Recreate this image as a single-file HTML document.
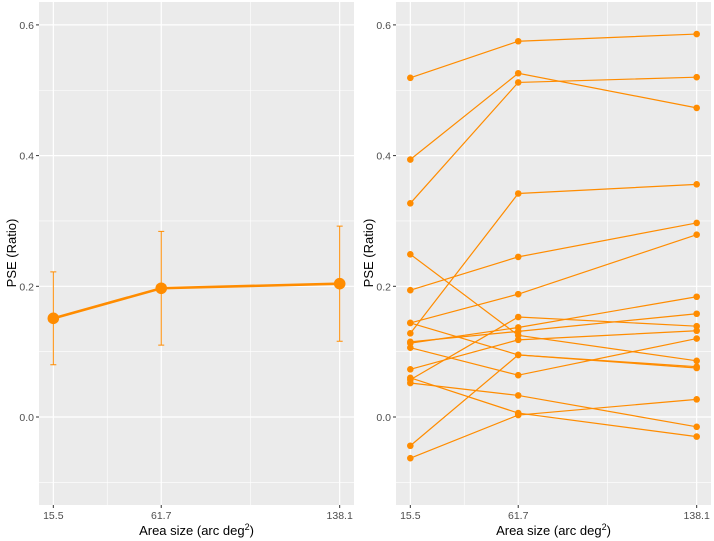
<!DOCTYPE html>
<html><head><meta charset="utf-8"><style>
html,body{margin:0;padding:0;background:#fff;}
svg{display:block;font-family:"Liberation Sans",sans-serif;}
</style></head><body>
<svg id="chart" width="714" height="541"></svg>
<script>
const areaSizes = [15.5, 61.7, 138.1];
const tickLabels = ["15.5", "61.7", "138.1"];
const yTicks = [0.0, 0.2, 0.4, 0.6];
const yTickLabels = ["0.0", "0.2", "0.4", "0.6"];
const yMinor = [-0.1, 0.1, 0.3, 0.5];
const meanPSE = [0.151, 0.197, 0.204];
const errLow = [0.080, 0.110, 0.116];
const errHigh = [0.222, 0.284, 0.292];
const s1 = [0.519, 0.575, 0.586];
const s2 = [0.394, 0.526, 0.473];
const s3 = [0.327, 0.512, 0.520];
const s4 = [0.128, 0.342, 0.356];
const s5 = [0.194, 0.245, 0.297];
const s6 = [0.144, 0.188, 0.279];
const s7 = [0.249, 0.125, 0.086];
const s8 = [0.106, 0.064, 0.120];
const s9 = [0.113, 0.137, 0.184];
const s10 = [0.115, 0.131, 0.158];
const s11 = [0.144, 0.095, 0.077];
const s12 = [0.073, 0.118, 0.132];
const s13 = [0.057, 0.153, 0.139];
const s14 = [0.052, 0.033, -0.015];
const s15 = [0.060, 0.006, -0.030];
const s16 = [-0.044, 0.095, 0.075];
const s17 = [-0.063, 0.003, 0.027];
const subjects = [s1,s2,s3,s4,s5,s6,s7,s8,s9,s10,s11,s12,s13,s14,s15,s16,s17];

const NS = "http://www.w3.org/2000/svg";
const svg = document.getElementById("chart");
const ORANGE = "#ff8c00";
const xMin = 15.5 - 0.05*122.6, xMax = 138.1 + 0.05*122.6;
const plotTop = 2, plotBot = 505;
function yScale(v){ return 417 - v * 653.5; }
function mk(tag, attrs, parent){
  const e = document.createElementNS(NS, tag);
  for (const k in attrs) e.setAttribute(k, attrs[k]);
  (parent || svg).appendChild(e);
  return e;
}
function panel(offset, name){
  const g = mk("g", {});
  
  
  const L = 39 + offset, R = 354 + offset;
  const xs = v => L + (v - xMin) / (xMax - xMin) * (R - L);
  const bg = mk("rect", {x:L, y:plotTop, width:R-L, height:plotBot-plotTop, fill:"#ebebeb"}, g);
  
  
  yMinor.forEach(v => { mk("line", {x1:L, x2:R, y1:yScale(v), y2:yScale(v), stroke:"#fff", "stroke-width":0.6}, g); });
  for (let i = 0; i < areaSizes.length-1; i++){
    const m = xs((areaSizes[i]+areaSizes[i+1])/2);
    mk("line", {x1:m, x2:m, y1:plotTop, y2:plotBot, stroke:"#fff", "stroke-width":0.6}, g);
  }
  yTicks.forEach((v,i) => {
    const y = yScale(v);
    mk("line", {x1:L, x2:R, y1:y, y2:y, stroke:"#fff", "stroke-width":1.2}, g);
    mk("line", {x1:L-3, x2:L, y1:y, y2:y, stroke:"#333", "stroke-width":1}, g);
    const t = mk("text", {x:L-5, y:y+4, "text-anchor":"end", "font-size":"10.5", fill:"#4d4d4d"}, g);
    t.textContent = yTickLabels[i];
    
    
  });
  areaSizes.forEach((v,i) => {
    const x = xs(v);
    mk("line", {x1:x, x2:x, y1:plotTop, y2:plotBot, stroke:"#fff", "stroke-width":1.2}, g);
    mk("line", {x1:x, x2:x, y1:plotBot, y2:plotBot+3, stroke:"#333", "stroke-width":1}, g);
    const t = mk("text", {x:x, y:plotBot+14, "text-anchor":"middle", "font-size":"10.5", fill:"#4d4d4d"}, g);
    t.textContent = tickLabels[i];
    
    
  });
  const yt = mk("text", {x:0, y:0, transform:`translate(${offset+16},253) rotate(-90)`, "text-anchor":"middle", "font-size":"13", fill:"#000"}, g);
  yt.textContent = "PSE (Ratio)";
  
  
  const xt = mk("text", {x:(L+R)/2, y:535, "text-anchor":"middle", "font-size":"13", fill:"#000"}, g);
  xt.innerHTML = 'Area size (arc deg<tspan dy="-5" font-size="9">2</tspan><tspan dy="5">)</tspan>';
  
  
  return {g, xs};
}

// Left panel: mean with error bars
const P1 = panel(0, "mean-panel");
areaSizes.forEach((v,i) => {
  const x = P1.xs(v);
  const e = mk("path", {d:`M${x},${yScale(errLow[i])}V${yScale(errHigh[i])}M${x-3},${yScale(errLow[i])}H${x+3}M${x-3},${yScale(errHigh[i])}H${x+3}`, stroke:ORANGE, "stroke-width":1, fill:"none"}, P1.g);
  
  
});
const ml = mk("polyline", {points: areaSizes.map((v,i)=>P1.xs(v)+","+yScale(meanPSE[i])).join(" "), stroke:ORANGE, "stroke-width":2.6, fill:"none"}, P1.g);


areaSizes.forEach((v,i) => {
  const c = mk("circle", {cx:P1.xs(v), cy:yScale(meanPSE[i]), r:5.8, fill:ORANGE}, P1.g);
  
  
});

// Right panel: individual subjects
const P2 = panel(357, "subjects-panel");
subjects.forEach((s, k) => {
  const l = mk("polyline", {points: areaSizes.map((v,i)=>P2.xs(v)+","+yScale(s[i])).join(" "), stroke:ORANGE, "stroke-width":1.2, fill:"none"}, P2.g);
  
  
});
subjects.forEach(s => {
  areaSizes.forEach((v,i) => {
    const c = mk("circle", {cx:P2.xs(v), cy:yScale(s[i]), r:3.3, fill:ORANGE}, P2.g);
    
    
  });
});
</script>
</body></html>
